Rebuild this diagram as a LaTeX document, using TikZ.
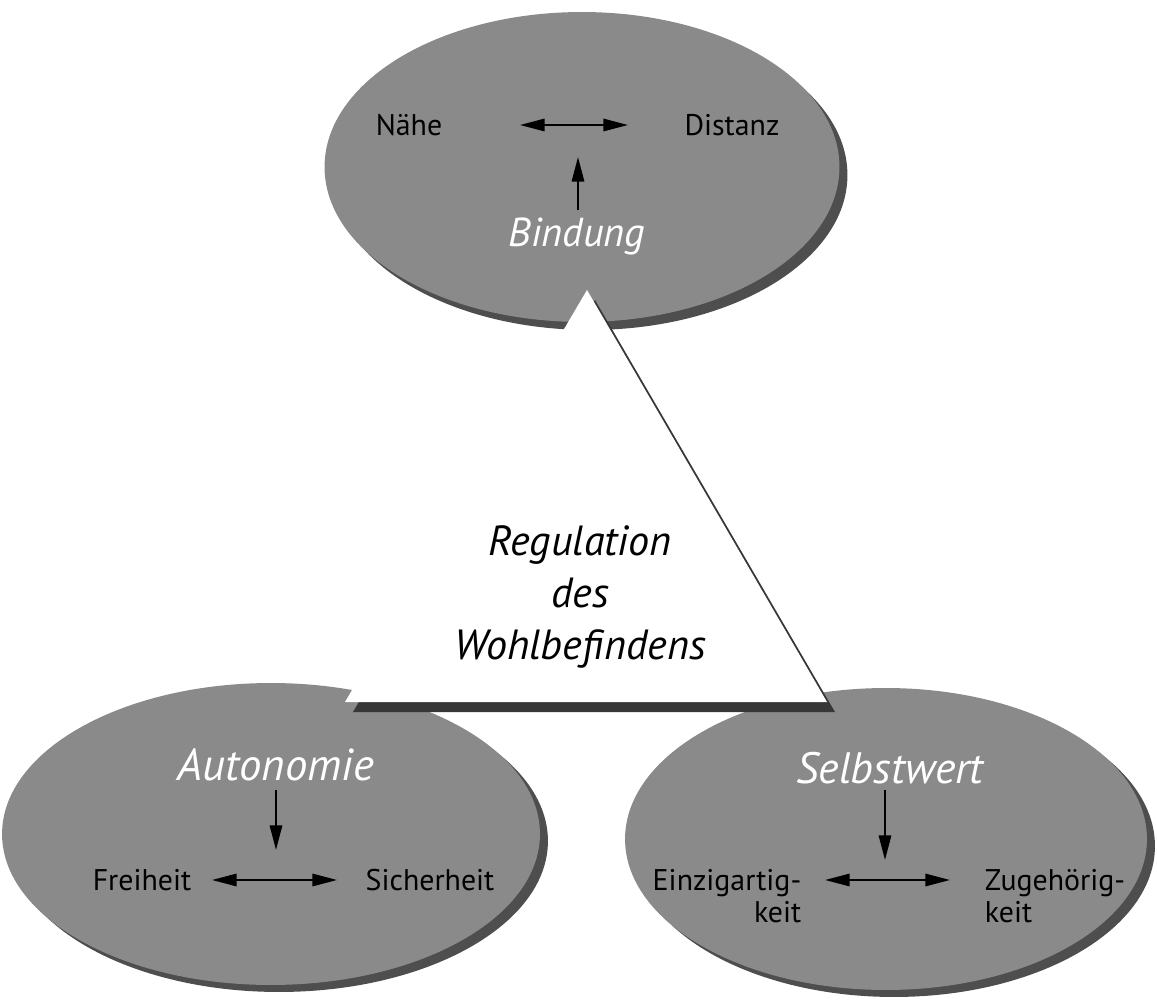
\documentclass[tikz,border=0pt]{standalone}
\usepackage{fontspec}
\setmainfont{PT Sans}
\usetikzlibrary{arrows.meta,shapes.geometric}
\definecolor{ellgray}{RGB}{138,138,138}
\definecolor{ellshadow}{RGB}{78,78,78}
\definecolor{trishadow}{RGB}{55,55,55}
\begin{document}
\begin{tikzpicture}[x=0.02cm,y=-0.02cm,
  blob/.style={ellipse, fill=ellgray, inner sep=0pt},
  blobshadow/.style={ellipse, fill=ellshadow, inner sep=0pt},
  lab/.style={font=\fontsize{17}{18.2}\selectfont, text=black, inner sep=1pt},
  ttl/.style={font=\itshape\fontsize{#1}{26}\selectfont, text=white, inner sep=1pt},
  ttl/.default=23,
  ctr/.style={font=\itshape\fontsize{24}{29.6}\selectfont, align=center, text=black},
  arr/.style={line width=1.2pt, -{Triangle[length=14pt,width=7pt]}},
  darr/.style={line width=1.2pt, {Triangle[length=14pt,width=7pt]}-{Triangle[length=14pt,width=7pt]}},
]
\useasboundingbox (0,0) rectangle (1157,1000);

% ellipses with shadows
\node[blobshadow, minimum width=10.3cm, minimum height=6.2cm] (topS) at (590,175) {};
\node[blob, minimum width=10.3cm, minimum height=6.2cm] (top) at (582,167) {};
\node[blobshadow, minimum width=10.76cm, minimum height=6.04cm] (leftS) at (279,841) {};
\node[blob, minimum width=10.76cm, minimum height=6.04cm] (left) at (271,834) {};
\node[blobshadow, minimum width=10.44cm, minimum height=6.04cm] (rightS) at (894,846) {};
\node[blob, minimum width=10.44cm, minimum height=6.04cm] (right) at (886,839) {};

% triangle
\coordinate (apex) at (587,290);
\coordinate (bl) at (345,702);
\coordinate (br) at (827,702);
\fill[trishadow] ([shift={(8,10)}]apex) -- ([shift={(8,10)}]bl) -- ([shift={(8,10)}]br) -- cycle;
\fill[white] (apex) -- (bl) -- (br) -- cycle;

\node[ctr] (reg) at (580,597) {Regulation\\des\\Wohlbefindens};

% top ellipse content
\node[lab] (nahe) at (409,125) {Nähe};
\node[lab] (distanz) at (732,125) {Distanz};
\coordinate (tA1) at (520,125);
\coordinate (tA2) at (628,125);
\draw[darr] (tA1) -- (tA2);
\node[ttl] (bindung) at (577,236) {Bindung};
\coordinate (tV1) at (578,210);
\coordinate (tV2) at (578,157);
\draw[arr] (tV1) -- (tV2);

% left ellipse content
\node[ttl=25.5] (autonomie) at (276,765) {Autonomie};
\coordinate (lV1) at (276,790);
\coordinate (lV2) at (276,850);
\draw[arr] (lV1) -- (lV2);
\node[lab] (freiheit) at (142,880) {Freiheit};
\node[lab] (sicherheit) at (430,880) {Sicherheit};
\coordinate (lA1) at (212,880);
\coordinate (lA2) at (337,880);
\draw[darr] (lA1) -- (lA2);

% right ellipse content
\node[ttl=25] (selbstwert) at (890,768) {Selbstwert};
\coordinate (rV1) at (885,790);
\coordinate (rV2) at (885,860);
\draw[arr] (rV1) -- (rV2);
\node[lab, align=right] (einz) at (727,896) {Einzigartig-\\keit};
\node[lab, align=left] (zug) at (1055,896) {Zugehörig-\\keit};
\coordinate (rA1) at (825,880);
\coordinate (rA2) at (950,880);
\draw[darr] (rA1) -- (rA2);
\end{tikzpicture}
\end{document}
